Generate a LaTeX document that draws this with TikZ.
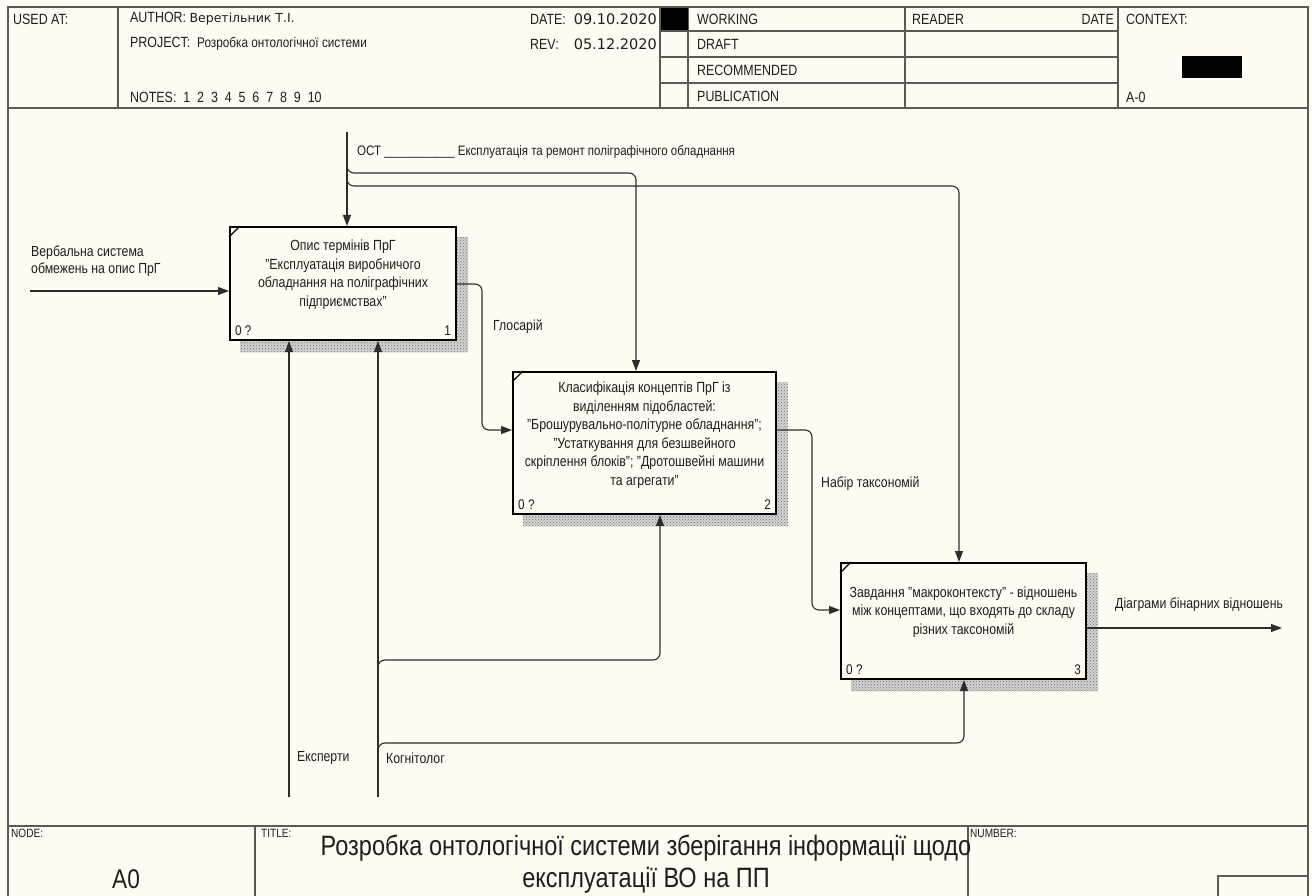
\documentclass[tikz,border=0pt]{standalone}
\usepackage{fontspec}
\setmainfont{Liberation Sans}[FakeStretch=0.84]
\newfontfamily\uifont{DejaVu Sans}
\usetikzlibrary{arrows.meta,patterns}
\definecolor{paper}{RGB}{255,252,242}
\definecolor{frameline}{RGB}{90,90,90}
\definecolor{wire}{RGB}{45,45,45}
\definecolor{ink}{RGB}{30,30,30}
\tikzset{
  frame/.style={draw=frameline, line width=1.3pt},
  fnbox/.style={draw=black, line width=2pt, fill=paper, inner sep=0},
  shadebase/.style={fill=gray!35},
  shade/.style={pattern=crosshatch dots, pattern color=gray!90!black},
  wire/.style={draw=wire, line width=1.1pt, rounded corners=7pt},
  arr/.style={wire, -{Triangle[length=11pt,width=8pt]}},
  lbl/.style={inner sep=0, anchor=west, text=ink, font=\fontsize{14.6}{17}\selectfont},
  hdr/.style={inner sep=0, anchor=west, text=ink, font=\fontsize{14.8}{17}\selectfont},
  tiny/.style={inner sep=0, anchor=west, text=ink, font=\fontsize{12}{14}\selectfont},
  boxtext/.style={align=center, inner sep=0, text=ink, font=\fontsize{14.7}{18.5}\selectfont},
  corner/.style={inner sep=0, text=ink, font=\fontsize{14}{16}\selectfont},
  datefont/.style={font=\uifont\fontsize{14.5}{17}\selectfont},
}
\begin{document}
\begin{tikzpicture}[x=1pt, y=-1pt]
\useasboundingbox (0,0) rectangle (1312,896);
\fill[paper] (0,0) rectangle (1312,896);

% ---------- outer frame and header grid ----------
\draw[frame] (8,896) -- (8,7) -- (1308,7) -- (1308,896);
\draw[frame] (8,108) -- (1308,108);
\draw[frame] (118,7) -- (118,108);
\draw[frame] (660,7) -- (660,108);
\draw[frame] (688,7) -- (688,108);
\draw[frame] (905,7) -- (905,108);
\draw[frame] (1118,7) -- (1118,108);
\foreach \yy in {31,57,83} \draw[frame] (660,\yy) -- (1118,\yy);
\fill[black] (661,8) rectangle (688,30);
\fill[black] (1182,56) rectangle (1242,78);

\node[hdr] (usedat) at (13,19) {USED AT:};
\node[hdr] (author) at (130,19) {AUTHOR:\ {\uifont\fontsize{12.5}{14}\selectfont Веретільник Т.І.}};
\node[hdr] (project) at (130,44) {PROJECT:\ \ {\fontsize{14}{16}\selectfont Розробка онтологічної системи}};
\node[hdr] (notes) at (130,97) {NOTES:\ \ 1\ \ 2\ \ 3\ \ 4\ \ 5\ \ 6\ \ 7\ \ 8\ \ 9\ \ 10};
\node[hdr] (date) at (530,19) {DATE:};
\node[inner sep=0, anchor=east, text=ink, datefont] (dateval) at (657,19) {09.10.2020};
\node[hdr] (rev) at (530,44) {REV:};
\node[inner sep=0, anchor=east, text=ink, datefont] (revval) at (657,44) {05.12.2020};
\node[hdr] (working) at (697,19) {WORKING};
\node[hdr] (draft) at (697,44) {DRAFT};
\node[hdr] (recommended) at (697,70) {RECOMMENDED};
\node[hdr] (publication) at (697,96) {PUBLICATION};
\node[hdr] (reader) at (912,19) {READER};
\node[hdr, anchor=east] (rdate) at (1114,19) {DATE};
\node[hdr] (context) at (1126,19) {CONTEXT:};
\node[hdr] (ctxnode) at (1126,97) {A-0};

% ---------- footer ----------
\draw[frame] (8,826) -- (1308,826);
\draw[frame] (255,826) -- (255,896);
\draw[frame] (968,826) -- (968,896);
\draw[frame] (1218,896) -- (1218,876) -- (1308,876);
\node[tiny] (nodelbl) at (11,833) {NODE:};
\node[inner sep=0, text=ink, font=\fontsize{27}{30}\selectfont] (nodeid) at (126,879) {A0};
\node[tiny] (titlelbl) at (261,833) {TITLE:};
\node[inner sep=0, text=ink, align=center, font=\fontsize{28}{32}\selectfont, anchor=north] (title) at (646,835)
  {Розробка онтологічної системи зберігання інформації щодо\\експлуатації ВО на ПП};
\node[tiny] (numberlbl) at (970,833) {NUMBER:};

% ---------- activity boxes ----------
\node[fnbox, minimum width=226pt, minimum height=113pt] (b1) at (343,283.5) {};
\node[fnbox, minimum width=263pt, minimum height=142pt] (b2) at (644.5,443) {};
\node[fnbox, minimum width=245pt, minimum height=116pt] (b3) at (963.5,621) {};

\foreach \b in {b1,b2,b3} {
  \fill[shadebase] ([yshift=-11pt]\b.north east) rectangle ([xshift=11pt,yshift=-11pt]\b.south east);
  \fill[shadebase] ([xshift=11pt]\b.south west) rectangle ([yshift=-11pt]\b.south east);
  \fill[shade] ([yshift=-11pt]\b.north east) rectangle ([xshift=11pt,yshift=-11pt]\b.south east);
  \fill[shade] ([xshift=11pt]\b.south west) rectangle ([yshift=-11pt]\b.south east);
  \draw[line width=1.2pt] ([yshift=-11pt]\b.north west) -- ([xshift=11pt]\b.north west);
  \node[corner, anchor=south west] (\b q) at ([xshift=6pt,yshift=5pt]\b.south west) {0 ?};
}
\node[corner, anchor=south east] (b1n) at ([xshift=-6pt,yshift=5pt]b1.south east) {1};
\node[corner, anchor=south east] (b2n) at ([xshift=-6pt,yshift=5pt]b2.south east) {2};
\node[corner, anchor=south east] (b3n) at ([xshift=-6pt,yshift=5pt]b3.south east) {3};

\node[boxtext] (b1t) at ([yshift=9pt]b1.center)
  {Опис термінів ПрГ\\"Експлуатація виробничого\\обладнання на поліграфічних\\підприємствах"};
\node[boxtext] (b2t) at ([yshift=8pt]b2.center)
  {Класифікація концептів ПрГ із\\виділенням підобластей:\\"Брошурувально-політурне обладнання";\\"Устаткування для безшвейного\\скріплення блоків"; "Дротошвейні машини\\та агрегати"};
\node[boxtext] (b3t) at ([yshift=9pt]b3.center)
  {Завдання "макроконтексту" - відношень\\між концептами, що входять до складу\\різних таксономій};

% ---------- input ----------
\coordinate (in1) at (30,291);
\draw[arr] (in1) -- (in1 -| b1.west);
\node[lbl, align=left] (inlbl) at (31,261) {Вербальна система\\обмежень на опис ПрГ};

% ---------- control with branches ----------
\coordinate (ctop) at (347,132);
\draw[arr] (ctop) -- (ctop |- b1.north);
\coordinate (j1) at (347,160);
\coordinate (k1a) at (347,173);
\coordinate (k1b) at (636,173);
\draw[arr] (j1) -- (k1a) -- (k1b) -- (k1b |- b2.north);
\coordinate (j2) at (347,172);
\coordinate (k2a) at (347,186);
\coordinate (k2b) at (959,186);
\draw[arr] (j2) -- (k2a) -- (k2b) -- (k2b |- b3.north);
\node[lbl, font=\fontsize{13.7}{16}\selectfont] (ctllbl) at (357,152) {ОСТ \textunderscore\textunderscore\textunderscore\textunderscore\textunderscore\textunderscore\textunderscore\textunderscore\textunderscore\textunderscore\textunderscore\ Експлуатація та ремонт поліграфічного обладнання};

% ---------- outputs between boxes ----------
\coordinate (g1) at (482,284);
\coordinate (g2) at (482,430);
\draw[arr] (b1.east |- g1) -- (g1) -- (g2) -- (g2 -| b2.west);
\node[lbl] (glos) at (493,327) {Глосарій};

\coordinate (t1) at (812,430);
\coordinate (t2) at (812,610);
\draw[arr] (b2.east |- t1) -- (t1) -- (t2) -- (t2 -| b3.west);
\node[lbl] (taxo) at (821,484) {Набір таксономій};

\coordinate (o1) at (1282,628);
\draw[arr] (b3.east |- o1) -- (o1);
\node[lbl] (outlbl) at (1115,605) {Діаграми бінарних відношень};

% ---------- mechanisms ----------
\coordinate (m1) at (289,797);
\draw[arr] (m1) -- (m1 |- b1.south);
\node[lbl] (mech1) at (297,758) {Експерти};
\coordinate (m2) at (378,797);
\draw[arr] (m2) -- (m2 |- b1.south);
\node[lbl] (mech2) at (386,758) {Когнітолог};
\coordinate (j3) at (378,672);
\coordinate (k3a) at (378,660);
\coordinate (k3b) at (660,660);
\draw[arr] (j3) -- (k3a) -- (k3b) -- (k3b |- b2.south);
\coordinate (j4) at (378,755);
\coordinate (k4a) at (378,743);
\coordinate (k4b) at (964,743);
\draw[arr] (j4) -- (k4a) -- (k4b) -- (k4b |- b3.south);
\end{tikzpicture}
\end{document}
